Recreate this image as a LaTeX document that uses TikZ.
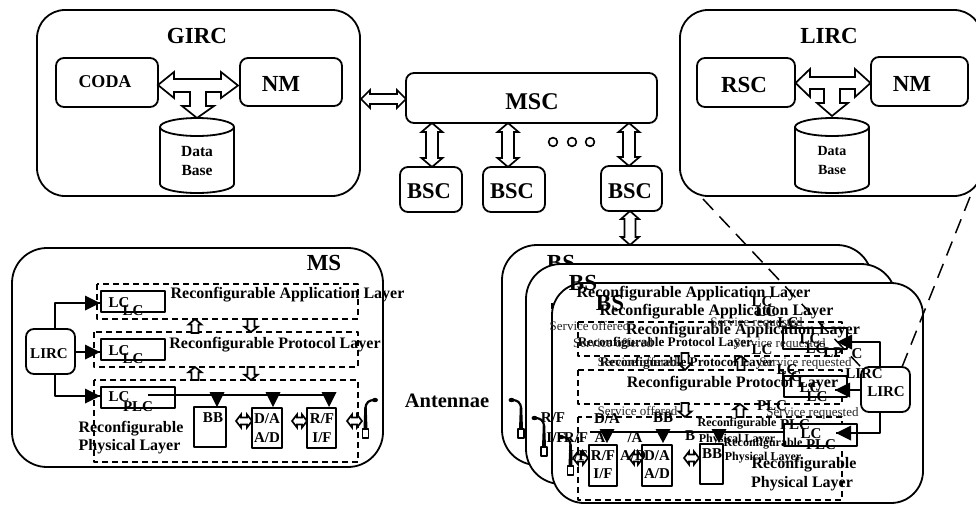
\documentclass[tikz,border=0pt]{standalone}
\usepackage{fontspec}
\setmainfont{Liberation Serif}
\newcounter{lblno}
\tikzset{
  every picture/.style={x=1pt,y=-1pt,line width=1.8pt,line join=round},
  boxline/.style={draw=black,fill=white,line width=1.8pt,inner sep=0pt},
  dashbox/.style={draw=black,dash pattern=on 6pt off 4pt,line width=1.5pt},
  blockarrow/.style={draw=black,fill=white,line width=1.7pt,line join=miter},
  linkline/.style={draw=black,line width=1.7pt},
  zoomline/.style={draw=black,line width=1.5pt,dash pattern=on 15pt off 9pt},
}
% box by corners
\newcommand{\bx}[6]{\node[boxline,rounded corners=#6,minimum width={(#4-#2)*1pt},minimum height={(#5-#3)*1pt}] (#1) at ({(#2+#4)/2},{(#3+#5)/2}) {};}
% bold / regular labels: x y size text
\newcommand{\lblb}[4]{\stepcounter{lblno}\node[inner sep=0pt,text height={0.66*#3pt},text depth=0pt,font=\fontsize{#3}{#3}\selectfont\bfseries] (b\arabic{lblno}) at (#1,#2) {#4};}
\newcommand{\lblr}[4]{\stepcounter{lblno}\node[inner sep=0pt,text height={0.66*#3pt},text depth=0pt,text=black!85,font=\fontsize{#3}{#3}\selectfont] (r\arabic{lblno}) at (#1,#2) {#4};}
% double arrows
\newcommand{\dah}[6]{\draw[blockarrow] (#1,#3) -- ({#1+#6},{#3-#4}) -- ({#1+#6},{#3-#5}) -- ({#2-#6},{#3-#5}) -- ({#2-#6},{#3-#4}) -- (#2,#3) -- ({#2-#6},{#3+#4}) -- ({#2-#6},{#3+#5}) -- ({#1+#6},{#3+#5}) -- ({#1+#6},{#3+#4}) -- cycle;}
\newcommand{\dav}[6]{\draw[blockarrow] (#3,#1) -- ({#3-#4},{#1+#6}) -- ({#3-#5},{#1+#6}) -- ({#3-#5},{#2-#6}) -- ({#3-#4},{#2-#6}) -- (#3,#2) -- ({#3+#4},{#2-#6}) -- ({#3+#5},{#2-#6}) -- ({#3+#5},{#1+#6}) -- ({#3+#4},{#1+#6}) -- cycle;}
% single hollow vertical arrow: x, tail y, tip y
\newcommand{\sav}[3]{\draw[blockarrow] (#1,#3) -- ({#1-6.5},{#3+(#2-#3)*0.4}) -- ({#1-3.5},{#3+(#2-#3)*0.4}) -- ({#1-3.5},#2) -- ({#1+3.5},#2) -- ({#1+3.5},{#3+(#2-#3)*0.4}) -- ({#1+6.5},{#3+(#2-#3)*0.4}) -- cycle;}
% cylinder
\newcommand{\cyl}[5]{\draw[fill=white,line width=1.8pt] ({#1-#4},#2) -- ({#1-#4},#3) arc[start angle=180,end angle=360,x radius=#4pt,y radius=#5pt] -- ({#1+#4},#2);
  \draw[fill=white,line width=1.8pt] (#1,#2) ellipse[x radius=#4pt,y radius=#5pt];}
% filled down triangle: x, base y, tip y
\newcommand{\tri}[3]{\fill ({#1-7.5},#2) -- ({#1+7.5},#2) -- (#1,#3) -- cycle;}
% antenna: x, rect top y, dir
\newcommand{\ant}[3]{\begin{scope}[shift={(#1,#2)},xscale=#3]
  \draw[line width=1.5pt,fill=white] (-3,0) rectangle (3,9);
  \fill (-2,0) -- (2,0) -- (1.2,-22) -- (-1.2,-22) -- cycle;
  \draw[line width=2.2pt] (0,-20) .. controls (0,-27) and (-4,-29) .. (-9,-29);
  \fill (-9.5,-29) ellipse[x radius=3pt,y radius=2.2pt];
\end{scope}}
\begin{document}
\begin{tikzpicture}
\useasboundingbox (0,0) rectangle (976,504);
\fill[white] (0,0) rectangle (976,504);
% GIRC
\bx{girc}{37}{10}{360}{196}{28pt}
\lblb{197}{36}{23}{GIRC}
\bx{coda}{56}{58}{158}{107}{8pt}
\lblb{105}{82}{18}{CODA}
\bx{nma}{240}{58}{342}{106}{8pt}
\lblb{281}{84}{23}{NM}
\draw[blockarrow] (158,85) -- (174,72) -- (174,79) -- (221,79) -- (221,72) -- (238,85.5) -- (221,98) -- (221,92) -- (206,92) -- (206,106) -- (214,106) -- (197,118) -- (182,106) -- (190,106) -- (190,92) -- (174,92) -- (174,98) -- cycle;
\cyl{197}{127}{184}{37}{9}
\lblb{197}{151}{15.5}{Data}
\lblb{197}{170}{15.5}{Base}
% LIRC big
\bx{lircbig}{680}{10}{982}{196}{28pt}
\lblb{829}{36}{23}{LIRC}
\bx{rsc}{697}{58}{795}{107}{8pt}
\lblb{744}{85}{23}{RSC}
\bx{nmb}{871}{57}{968}{106}{8pt}
\lblb{912}{84}{23}{NM}
\draw[blockarrow] (795.5,83) -- (810,69) -- (810,77) -- (855,77) -- (855,69) -- (870.5,83) -- (855,97) -- (855,89) -- (840,89) -- (840,103) -- (848,103) -- (832,116) -- (817,103) -- (824,103) -- (824,89) -- (810,89) -- (810,97) -- cycle;
\cyl{832}{127}{184}{37}{9}
\lblb{832}{151}{14}{Data}
\lblb{832}{170}{14}{Base}
% MSC and BSC
\bx{msc}{406}{73}{657}{123}{8pt}
\lblb{532}{102}{24}{MSC}
\bx{bsca}{400}{167}{462}{212}{8pt}
\bx{bscb}{483}{167}{545}{212}{8pt}
\bx{bscc}{601}{166}{662}{211}{8pt}
\lblb{429}{191}{22.5}{BSC}
\lblb{512}{191}{22.5}{BSC}
\lblb{630}{191}{22.5}{BSC}
\dah{361}{406}{99}{9}{5}{9}
\dav{123}{167}{432}{10.5}{6}{9}
\dav{123}{167}{508}{10.5}{6}{9}
\dav{123}{166}{629}{10.5}{6}{9}
\dav{211}{245}{630}{9}{5.5}{8}
\foreach \cx in {553,572,590}{\draw[line width=1.6pt] (\cx,142) circle[radius=4.4pt];}
% MS
\bx{ms}{12}{248}{383}{467}{35pt}
\lblb{324}{263}{23}{MS}
\draw[dashbox] (97,284) rectangle (358,319);
\draw[dashbox] (94,332) rectangle (358,367);
\draw[dashbox] (94,380) rectangle (358,462);
\bx{lircms}{26}{329}{75}{374}{8pt}
\lblb{49}{354}{15}{LIRC}
\bx{lca}{101}{291}{165}{312}{0pt}
\bx{lcb}{101}{339}{165}{360}{0pt}
\bx{lcc}{101}{387}{175}{408}{0pt}
\coordinate (mstipa) at (100,303);
\coordinate (mstipb) at (100,352);
\coordinate (mstipc) at (100,396);
\draw[linkline] (55,329) |- (mstipa);
\draw[linkline] (lircms.east |- mstipb) -- (mstipb);
\draw[linkline] (55,374) |- (mstipc);
\foreach \yy in {303,352,396}{\fill (100,\yy) -- (85,{\yy-7.5}) -- (85,{\yy+7.5}) -- cycle;}
\lblb{119}{303}{15}{LC}\lblb{133}{311}{15}{LC}
\lblb{119}{351}{15}{LC}\lblb{133}{359}{15}{LC}
\lblb{119}{397}{15}{LC}\lblb{138}{407}{15}{PLC}
\bx{msbb}{194}{407}{226}{447}{0pt}
\bx{msda}{252}{408}{282}{448}{0pt}
\bx{msrf}{307}{408}{336}{448}{0pt}
\draw[linkline] (148,395) -- (329,395);
\tri{217}{392}{407}\tri{273}{392}{407}\tri{329}{392}{407}
\lblb{213}{418}{15}{BB}
\lblb{267}{419}{15}{D/A}\lblb{267}{438}{15}{A/D}
\lblb{322}{419}{15}{R/F}\lblb{322}{438}{15}{I/F}
\dah{236}{252}{421}{6.5}{3.5}{5}
\dah{292}{307}{421}{6.5}{3.5}{5}
\dah{347}{362}{421}{6.5}{3.5}{5}
\ant{365.5}{429}{-1}
\sav{195}{333}{319}
\sav{195}{380}{367}
\sav{251}{319}{332}
\sav{251}{367}{380}
\lblb{287.5}{293}{16}{Reconfigurable Application Layer}
\lblb{275}{343}{16}{Reconfigurable Protocol Layer}
\lblb{131}{427}{16}{Reconfigurable}
\lblb{129.5}{445}{16}{Physical Layer}
\lblb{447}{401}{20.5}{Antennae}
% BS stack
\bx{bsa}{502}{245}{872}{465}{35pt}
\lblb{561}{263}{23}{BS}
\ant{521}{429}{1}
\bx{bsb}{526}{264}{896}{484}{35pt}
\ant{544}{447}{1}
\bx{bsc}{552}{283}{923}{503}{32pt}
\ant{570.5}{466}{1}
\draw[dashbox] (552,303) -- (552,383);
\draw[dashbox] (578,322) rectangle (842,356);
\draw[dashbox] (578,370) rectangle (842,404);
\draw[dashbox] (578,417) rectangle (842,500);
\bx{bslca}{783}{328}{847}{349}{0pt}
\bx{bslcb}{784}{376}{847}{397}{0pt}
\bx{bslcc}{784}{424}{857}{446}{0pt}
\bx{bslirc}{861}{367}{910}{412}{8pt}
\bx{bsrf}{589}{445}{617}{486}{0pt}
\bx{bsda}{642}{445}{672}{486}{0pt}
\bx{bsbb}{700}{444}{723}{484}{0pt}
\coordinate (bstipa) at (837,342);
\coordinate (bstipb) at (835,390);
\coordinate (bstipc) at (836,433);
\draw[linkline] (bstipa) -- (880,342) -- (bslirc.north -| 880,0);
\draw[linkline] (bstipb) -- (bslirc.west |- bstipb);
\draw[linkline] (bstipc) -- (880,433) -- (bslirc.south -| 880,0);
\fill (837,342) -- (852,334.5) -- (852,349.5) -- cycle;
\fill (835,390) -- (850,382.5) -- (850,397.5) -- cycle;
\fill (836,433) -- (851,425.5) -- (851,440.5) -- cycle;
\draw[linkline] (590,432) -- (784,432);
\tri{607}{429}{443}\tri{663}{429}{443}\tri{719}{429}{443}
\dah{573}{588}{458}{6.5}{3.5}{5}
\dah{629}{643}{458}{6.5}{3.5}{5}
\dah{684}{699}{458}{6.5}{3.5}{5}
\sav{685}{353}{370}
\sav{741}{370}{356}
\sav{685}{403}{417}
\sav{740}{417}{404}
% zoom lines
\draw[zoomline] (703,199) coordinate (zla) -- (bslirc.north west);
\draw[zoomline] (970,197) coordinate (zlb) -- (902,367);
% BS texts
\lblb{583}{283}{23}{BS}
\lblb{610}{303}{23}{BS}
\lblb{693.5}{292}{16}{Reconfigurable Application Layer}
\lblb{716.5}{310}{16}{Reconfigurable Application Layer}
\lblb{743}{329}{16}{Reconfigurable Application Layer}
\lblb{665}{342}{13.2}{Reconfigurable Protocol Layer}
\lblb{687}{362}{13.2}{Reconfigurable Protocol Layer}
\lblb{732.5}{382}{16}{Reconfigurable Protocol Layer}
\lblb{737}{423}{12}{Reconfigurable}
\lblb{737}{439}{12}{Physical Layer}
\lblb{763}{443}{12}{Reconfigurable}
\lblb{763}{457}{12}{Physical Layer}
\lblb{804}{463}{16}{Reconfigurable}
\lblb{802}{482}{16}{Physical Layer}
\lblr{589.5}{326}{13}{Service offered}
\lblr{613}{343}{13}{Service offered}
\lblr{637.5}{362}{13}{Service offered}
\lblr{637.5}{411}{13}{Service offered}
\lblr{756.5}{322}{13}{Service requested}
\lblr{779.5}{343}{13}{Service requested}
\lblr{805.5}{362}{13}{Service requested}
\lblr{812.5}{412}{13}{Service requested}
\lblb{762}{302}{15}{LC}\lblb{766}{312}{15}{LC}\lblb{788}{323}{15}{LC}
\lblb{810}{339}{15}{LC}\lblb{816}{349}{15}{LC}\lblb{833}{353}{15}{LP}\lblb{857}{354}{15}{C}
\lblb{762}{350}{15}{LC}\lblb{787}{370}{15}{LC}\lblb{791}{377}{15}{LC}
\lblb{810}{388}{15}{LC}\lblb{817}{397}{15}{LC}
\lblb{772}{406}{15}{PLC}\lblb{795}{425}{15}{PLC}\lblb{811}{434}{15}{LC}\lblb{821}{445}{15}{PLC}
\lblb{864}{374}{15}{LIRC}
\lblb{886}{392}{15}{LIRC}
\lblb{603}{456}{15}{R/F}\lblb{603}{474}{15}{I/F}
\lblb{657}{456}{15}{D/A}\lblb{657}{474}{15}{A/D}
\lblb{712}{454}{15}{BB}
\lblb{690}{436}{15}{B}\lblb{600}{438}{15}{A}\lblb{635}{438}{15}{/A}
\lblb{607}{419}{15}{D/A}\lblb{663}{418}{15}{BB}
\lblb{553}{418}{15}{R/F}\lblb{576}{438}{15}{R/F}\lblb{556}{438}{15}{I/F}
\lblb{578}{456}{15}{I/F}\lblb{633}{456}{15}{A/D}
\end{tikzpicture}
\end{document}
